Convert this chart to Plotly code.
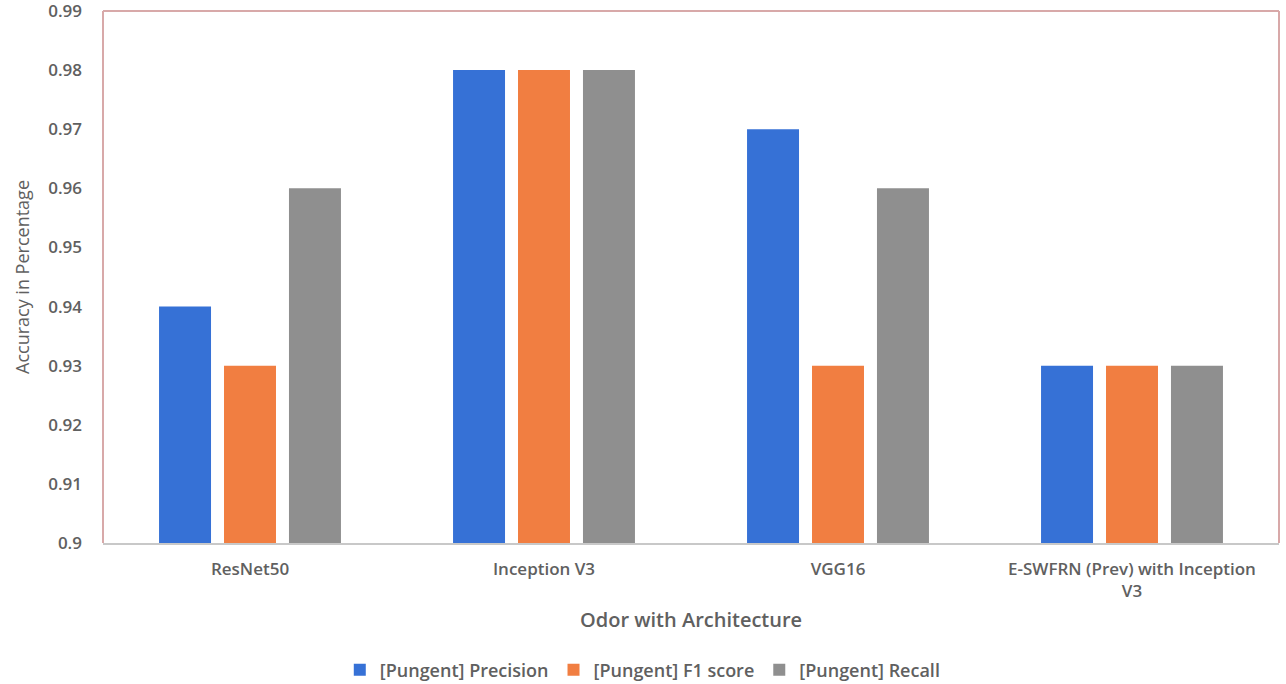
import plotly.graph_objects as go

categories = ["ResNet50", "Inception V3", "VGG16", "E-SWFRN (Prev) with Inception<br>V3"]
precision = [0.94, 0.98, 0.97, 0.93]
f1_score = [0.93, 0.98, 0.93, 0.93]
recall = [0.96, 0.98, 0.96, 0.93]
y_ticks = [0.9, 0.91, 0.92, 0.93, 0.94, 0.95, 0.96, 0.97, 0.98, 0.99]
y_tick_text = ["0.9", "0.91", "0.92", "0.93", "0.94", "0.95", "0.96", "0.97", "0.98", "0.99"]

font_family = "Open Sans, Noto Sans, sans-serif"
text_gray = "#606060"

fig = go.Figure()
fig.add_trace(go.Bar(name="[Pungent] Precision", x=categories, y=precision, marker_color="#3671d6",
                     marker_line_width=0))
fig.add_trace(go.Bar(name="[Pungent] F1 score", x=categories, y=f1_score, marker_color="#f17e41",
                     marker_line_width=0))
fig.add_trace(go.Bar(name="[Pungent] Recall", x=categories, y=recall, marker_color="#8f8f8f",
                     marker_line_width=0))

fig.update_layout(
    width=1286, height=684,
    margin=dict(l=103, r=7, t=11, b=141, autoexpand=False),
    paper_bgcolor="white", plot_bgcolor="white",
    barmode="group", bargap=0.337, bargroupgap=0.2,
    font=dict(family=font_family, size=17, color=text_gray),
    showlegend=True,
    legend=dict(orientation="h", x=0.459, xanchor="center", y=-0.2387, yanchor="middle",
                font=dict(size=18, color=text_gray, weight=600), traceorder="normal"),
    xaxis=dict(
        automargin=False,
        showgrid=False, showline=True, linecolor="#c8c8c8", linewidth=1.5,
        ticks="", tickfont=dict(size=17, color=text_gray, weight=600),
        ticklabelstandoff=10,
    ),
    yaxis=dict(
        automargin=False,
        range=[0.9, 0.99], tickvals=y_ticks, ticktext=y_tick_text,
        showgrid=False, showline=False, zeroline=False, ticks="",
        tickfont=dict(size=17, color=text_gray, weight=600),
        ticklabelstandoff=20, ticklabeloverflow="allow",
    ),
    annotations=[
        dict(text="Accuracy in Percentage", xref="paper", yref="paper",
             x=-0.0689, y=0.5, xanchor="center", yanchor="middle", textangle=-90,
             showarrow=False, font=dict(size=18, color=text_gray)),
        dict(text="Odor with Architecture", xref="paper", yref="paper",
             x=0.5, y=-0.1447, xanchor="center", yanchor="middle",
             showarrow=False, font=dict(size=20, color=text_gray, weight=600)),
    ],
    shapes=[
        dict(type="line", xref="paper", yref="paper", x0=0, x1=0, y0=0, y1=1,
             line=dict(color="#d8a9a9", width=2)),
        dict(type="line", xref="paper", yref="paper", x0=0, x1=1, y0=1, y1=1,
             line=dict(color="#d8a9a9", width=2)),
        dict(type="line", xref="paper", yref="paper", x0=1, x1=1, y0=0, y1=1,
             line=dict(color="#d8a9a9", width=2)),
    ],
)

fig.write_html("out.html")
